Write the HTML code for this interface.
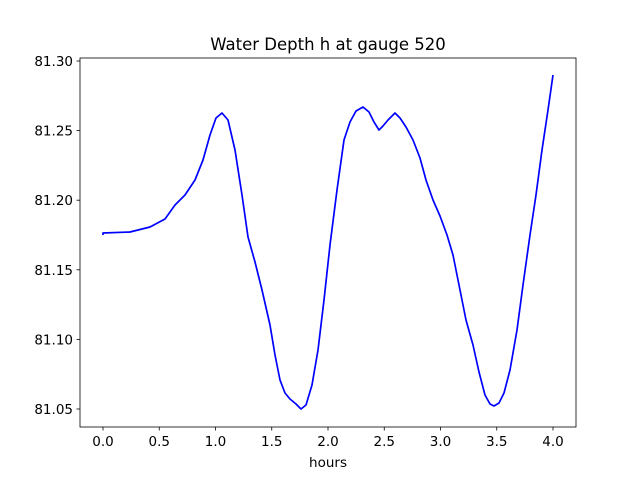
<!DOCTYPE html>
<html><head><meta charset="utf-8"><style>body{margin:0;background:#fff}svg{display:block}text{font-family:"DejaVu Sans",sans-serif;fill:#000}</style></head>
<body>
<svg width="640" height="480" viewBox="0 0 640 480">
<rect x="80" y="58" width="496" height="369" fill="none" stroke="#000" stroke-width="0.8"/>
<g stroke="#000" stroke-width="0.8">
<line x1="103" y1="427" x2="103" y2="430.5"/><line x1="159.25" y1="427" x2="159.25" y2="430.5"/><line x1="215.5" y1="427" x2="215.5" y2="430.5"/><line x1="271.75" y1="427" x2="271.75" y2="430.5"/><line x1="328" y1="427" x2="328" y2="430.5"/><line x1="384.25" y1="427" x2="384.25" y2="430.5"/><line x1="440.5" y1="427" x2="440.5" y2="430.5"/><line x1="496.75" y1="427" x2="496.75" y2="430.5"/><line x1="553" y1="427" x2="553" y2="430.5"/>
<line x1="76.5" y1="409" x2="80" y2="409"/><line x1="76.5" y1="339.4" x2="80" y2="339.4"/><line x1="76.5" y1="269.8" x2="80" y2="269.8"/><line x1="76.5" y1="200.2" x2="80" y2="200.2"/><line x1="76.5" y1="130.6" x2="80" y2="130.6"/><line x1="76.5" y1="61" x2="80" y2="61"/>
</g>
<g font-size="13.5" text-anchor="middle">
<text x="103" y="446">0.0</text><text x="159.25" y="446">0.5</text><text x="215.5" y="446">1.0</text><text x="271.75" y="446">1.5</text><text x="328" y="446">2.0</text><text x="384.25" y="446">2.5</text><text x="440.5" y="446">3.0</text><text x="496.75" y="446">3.5</text><text x="553" y="446">4.0</text>
<text x="328" y="467">hours</text>
</g>
<g font-size="13.5" text-anchor="end">
<text x="73" y="414">81.05</text><text x="73" y="344.4">81.10</text><text x="73" y="274.8">81.15</text><text x="73" y="205.2">81.20</text><text x="73" y="135.6">81.25</text><text x="73" y="66">81.30</text>
</g>
<text x="328" y="50" font-size="16.5" text-anchor="middle">Water Depth h at gauge 520</text>
<polyline fill="none" stroke="#0000ff" stroke-width="1.7" stroke-linejoin="round" points="103,235 103,233 130,232 150,227 165,219 175,205 185,195 195,180 203,160 210,135 216,118 222,113 228,120 235,150 242,195 248,237 255,262 262,290 270,325 275,355 280,380 285,393 290,399 296,404 301,409 306,405 312,385 318,350 324,300 330,245 337,190 344,140 350,122 356,111 363,107 369,112 374,122 379,130 383,126 388,120 395,113 400,118 406,127 413,140 420,158 426,180 433,200 440,216 447,235 453,255 460,290 466,320 473,345 479,372 485,395 490,404 494,406 499,403 504,393 510,370 517,330 523,285 530,235 536,195 542,150 548,110 553,75"/>
</svg>
</body></html>
